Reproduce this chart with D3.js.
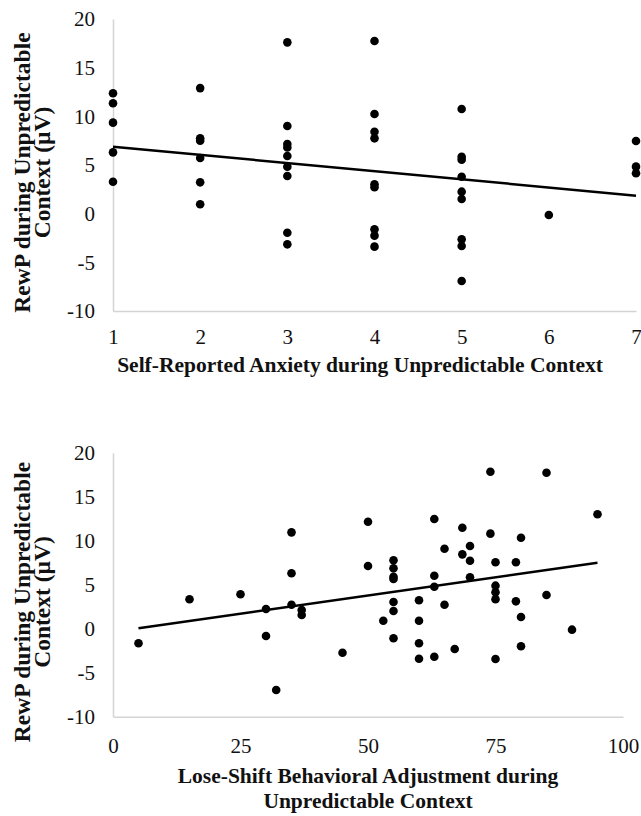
<!DOCTYPE html>
<html>
<head>
<meta charset="utf-8">
<script src="https://cdn.jsdelivr.net/npm/d3@7"></script>
<style>
  body { margin: 0; background: #fff; }
  svg { display: block; font-family: "Liberation Serif", "Times New Roman", serif; }
</style>
</head>
<body>
<div id="chart"></div>
<script>
// Top panel: self-reported anxiety (1-7) vs RewP
const topX = [1, 1, 1, 1, 1,
  2, 2, 2, 2, 2, 2,
  3, 3, 3, 3, 3, 3, 3, 3, 3,
  4, 4, 4, 4, 4, 4, 4, 4, 4,
  5, 5, 5, 5, 5, 5, 5, 5, 5,
  6,
  7, 7, 7];
const topY = [12.37, 11.34, 9.35, 6.3, 3.28,
  12.9, 7.75, 7.5, 5.72, 3.22, 0.96,
  17.6, 9.0, 7.16, 6.8, 5.92, 4.83, 3.87, -1.96, -3.15,
  17.74, 10.24, 8.42, 7.74, 3.02, 2.71, -1.61, -2.26, -3.39,
  10.75, 5.85, 5.55, 3.8, 2.26, 1.51, -2.64, -3.32, -6.92,
  -0.14,
  7.47, 4.83, 4.15];
const topTrend = [[1, 6.88], [7, 1.85]];
const topXTicks = [1, 2, 3, 4, 5, 6, 7];

// Bottom panel: lose-shift adjustment (%) vs RewP
const bottomX = [5, 15, 25, 30, 30, 32, 35, 35, 35, 37, 37, 45, 50, 50,
  74, 85, 95, 63, 68.5, 74, 80, 65, 70, 68.5, 70, 55, 55, 55, 55, 75, 79,
  63, 63, 70, 75, 75, 75, 85, 55, 55, 60, 65, 79, 53, 60, 80, 90,
  55, 60, 60, 63, 67, 75, 80];
const bottomY = [-1.66, 3.34, 3.91, 2.24, -0.83, -6.97, 10.95, 6.3, 2.73, 2.12, 1.56, -2.73, 12.16, 7.12,
  17.84, 17.73, 13.0, 12.47, 11.48, 10.8, 10.34, 9.09, 9.4, 8.45, 7.73, 7.77, 6.86, 5.91, 5.65, 7.55, 7.55,
  6.02, 4.77, 5.84, 4.89, 4.14, 3.34, 3.83, 3.03, 2.01, 3.23, 2.73, 3.11, 0.91, 0.91, 1.33, -0.11,
  -1.09, -1.66, -3.41, -3.18, -2.31, -3.44, -2.0];
const bottomTrend = [[5, 0.04], [95, 7.5]];
const bottomXTicks = [0, 25, 50, 75, 100];

const yTicks = [-10, -5, 0, 5, 10, 15, 20];
const yTitle = ["RewP during Unpredictable", "Context (\u00b5V)"];
const topXTitle = ["Self-Reported Anxiety during Unpredictable Context"];
const bottomXTitle = ["Lose-Shift Behavioral Adjustment during", "Unpredictable Context"];

const W = 641, H = 816;
const svg = d3.select("#chart").append("svg")
  .attr("width", W)
  .attr("height", H);

function drawPanel(opts) {
  const x = d3.scaleLinear().domain(opts.xDomain).range(opts.xRange);
  const y = d3.scaleLinear().domain([-10, 20]).range(opts.yRange);
  const g = svg.append("g");
  const fmt = d => String(d);

  // y axis
  const ya = g.append("g")
    .attr("transform", `translate(${opts.xRange[0]},0)`)
    .call(d3.axisLeft(y).tickValues(yTicks).tickFormat(fmt).tickSize(0).tickPadding(18));
  // x axis
  const xa = g.append("g")
    .attr("transform", `translate(0,${opts.yRange[0]})`)
    .call(d3.axisBottom(x).tickValues(opts.xTicks).tickFormat(fmt).tickSize(0).tickPadding(opts.xPad));

  [ya, xa].forEach(a => {
    a.attr("font-family", null);
    a.select(".domain").attr("stroke", "#d4d4d4").attr("stroke-width", 1.5);
    a.selectAll("text")
      .attr("fill", "#111")
      .style("font-family", "'Liberation Serif', serif")
      .style("font-size", "21px");
  });

  // points
  g.selectAll("circle")
    .data(opts.xs.map((v, i) => [v, opts.ys[i]]))
    .join("circle")
    .attr("cx", d => x(d[0]))
    .attr("cy", d => y(d[1]))
    .attr("r", 4.3)
    .attr("fill", "#000");

  // trend line
  g.append("path")
    .datum(opts.trend)
    .attr("fill", "none")
    .attr("stroke", "#000")
    .attr("stroke-width", 2.5)
    .attr("d", d3.line().x(d => x(d[0])).y(d => y(d[1])));

  // y title
  yTitle.forEach((t, i) => {
    g.append("text")
      .attr("transform", `translate(${30 + i * 20},${opts.yTitleY}) rotate(-90)`)
      .attr("text-anchor", "middle")
      .style("font-size", "23.5px")
      .style("font-weight", "bold")
      .attr("fill", "#111")
      .text(t);
  });

  // x title
  opts.xTitle.forEach((t, i) => {
    g.append("text")
      .attr("x", opts.xTitleX)
      .attr("y", opts.xTitleY + i * 25)
      .attr("text-anchor", "middle")
      .style("font-size", "21.5px")
      .style("font-weight", "bold")
      .attr("fill", "#111")
      .text(t);
  });
}

drawPanel({
  xDomain: [1, 7], xRange: [113, 636], yRange: [311, 19],
  xTicks: topXTicks, xPad: 18,
  xs: topX, ys: topY, trend: topTrend,
  yTitleY: 172.5,
  xTitle: topXTitle, xTitleX: 360, xTitleY: 372
});

drawPanel({
  xDomain: [0, 100], xRange: [113, 623], yRange: [716.7, 452.7],
  xTicks: bottomXTicks, xPad: 21,
  xs: bottomX, ys: bottomY, trend: bottomTrend,
  yTitleY: 602,
  xTitle: bottomXTitle, xTitleX: 368, xTitleY: 783
});
</script>
</body>
</html>
